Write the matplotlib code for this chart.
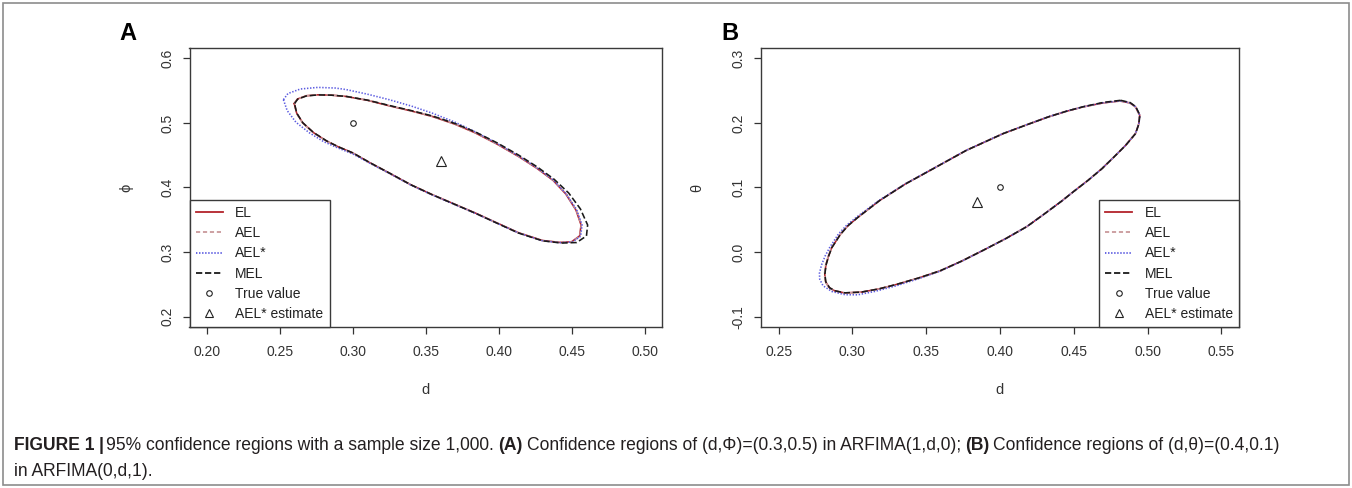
import matplotlib
matplotlib.use('Agg')
import matplotlib.pyplot as plt
from matplotlib.lines import Line2D
from matplotlib.patches import Rectangle

plt.rcParams['font.family'] = ['Liberation Sans', 'DejaVu Sans']
plt.rcParams['lines.scale_dashes'] = False

# ---- data: panel A, confidence regions of (d, phi) ----
a_el = [(0.2598, 0.5300), (0.2620, 0.5370), (0.2680, 0.5420), (0.2760, 0.5435), (0.2850, 0.5430),
        (0.2953, 0.5410), (0.3100, 0.5350), (0.3249, 0.5265), (0.3400, 0.5185), (0.3544, 0.5100),
        (0.3700, 0.4980), (0.3840, 0.4845), (0.3990, 0.4670), (0.4136, 0.4480), (0.4260, 0.4300),
        (0.4373, 0.4110), (0.4460, 0.3900), (0.4530, 0.3650), (0.4565, 0.3420), (0.4555, 0.3250),
        (0.4500, 0.3160), (0.4420, 0.3150), (0.4300, 0.3180), (0.4136, 0.3300), (0.3990, 0.3450),
        (0.3840, 0.3605), (0.3700, 0.3740), (0.3544, 0.3890), (0.3400, 0.4040), (0.3249, 0.4225),
        (0.3120, 0.4380), (0.3000, 0.4535), (0.2900, 0.4630), (0.2820, 0.4720), (0.2730, 0.4850),
        (0.2657, 0.5000), (0.2615, 0.5150), (0.2598, 0.5300)]
a_ael = [(0.2600, 0.5305), (0.2622, 0.5372), (0.2682, 0.5422), (0.2762, 0.5437), (0.2852, 0.5432),
         (0.2955, 0.5412), (0.3102, 0.5352), (0.3250, 0.5268), (0.3402, 0.5187), (0.3545, 0.5102),
         (0.3702, 0.4982), (0.3842, 0.4847), (0.3992, 0.4672), (0.4138, 0.4482), (0.4262, 0.4302),
         (0.4375, 0.4112), (0.4462, 0.3902), (0.4532, 0.3652), (0.4567, 0.3420), (0.4557, 0.3248),
         (0.4502, 0.3158), (0.4420, 0.3148), (0.4300, 0.3178), (0.4136, 0.3298), (0.3990, 0.3448),
         (0.3840, 0.3603), (0.3700, 0.3738), (0.3544, 0.3888), (0.3400, 0.4038), (0.3249, 0.4223),
         (0.3120, 0.4378), (0.3000, 0.4533), (0.2900, 0.4628), (0.2818, 0.4720), (0.2728, 0.4850),
         (0.2655, 0.5000), (0.2613, 0.5152), (0.2600, 0.5305)]
a_aels = [(0.2524, 0.5360), (0.2555, 0.5455), (0.2640, 0.5525), (0.2760, 0.5550), (0.2880, 0.5540),
          (0.2953, 0.5517), (0.3100, 0.5445), (0.3249, 0.5360), (0.3400, 0.5262), (0.3544, 0.5152),
          (0.3700, 0.5012), (0.3840, 0.4862), (0.3990, 0.4682), (0.4136, 0.4490), (0.4260, 0.4310),
          (0.4373, 0.4118), (0.4462, 0.3905), (0.4535, 0.3655), (0.4572, 0.3420), (0.4562, 0.3245),
          (0.4505, 0.3155), (0.4420, 0.3145), (0.4300, 0.3176), (0.4136, 0.3296), (0.3990, 0.3446),
          (0.3840, 0.3600), (0.3700, 0.3735), (0.3544, 0.3885), (0.3400, 0.4035), (0.3249, 0.4220),
          (0.3120, 0.4372), (0.3000, 0.4520), (0.2900, 0.4610), (0.2800, 0.4710), (0.2700, 0.4850),
          (0.2610, 0.5010), (0.2550, 0.5190), (0.2524, 0.5360)]
a_mel = [(0.2600, 0.5300), (0.2622, 0.5368), (0.2682, 0.5418), (0.2762, 0.5434), (0.2852, 0.5430),
         (0.2955, 0.5410), (0.3102, 0.5352), (0.3250, 0.5270), (0.3402, 0.5190), (0.3545, 0.5108),
         (0.3702, 0.4990), (0.3842, 0.4858), (0.3992, 0.4688), (0.4138, 0.4500), (0.4265, 0.4318),
         (0.4380, 0.4128), (0.4480, 0.3915), (0.4560, 0.3670), (0.4610, 0.3420), (0.4602, 0.3250),
         (0.4535, 0.3148), (0.4430, 0.3140), (0.4300, 0.3175), (0.4136, 0.3295), (0.3990, 0.3446),
         (0.3840, 0.3602), (0.3700, 0.3738), (0.3544, 0.3889), (0.3400, 0.4040), (0.3249, 0.4226),
         (0.3120, 0.4381), (0.3000, 0.4536), (0.2900, 0.4631), (0.2820, 0.4722), (0.2730, 0.4852),
         (0.2657, 0.5002), (0.2615, 0.5152), (0.2600, 0.5300)]
a_true = (0.30, 0.50)
a_est = (0.3606, 0.4416)

# ---- data: panel B, confidence regions of (d, theta) ----
b_el = [(0.4815, 0.2340), (0.4880, 0.2310), (0.4918, 0.2250), (0.4947, 0.2120), (0.4940, 0.1980),
        (0.4918, 0.1834), (0.4850, 0.1650), (0.4771, 0.1470), (0.4690, 0.1290), (0.4594, 0.1106),
        (0.4500, 0.0940), (0.4418, 0.0790), (0.4300, 0.0590), (0.4182, 0.0395), (0.4040, 0.0210),
        (0.3888, 0.0030), (0.3740, -0.0140), (0.3594, -0.0290), (0.3450, -0.0400), (0.3300, -0.0500),
        (0.3180, -0.0570), (0.3060, -0.0620), (0.2947, -0.0632), (0.2880, -0.0600), (0.2844, -0.0553),
        (0.2818, -0.0460), (0.2812, -0.0340), (0.2820, -0.0200), (0.2838, -0.0060), (0.2859, 0.0067),
        (0.2918, 0.0275), (0.2970, 0.0410), (0.3035, 0.0535), (0.3182, 0.0795), (0.3359, 0.1055),
        (0.3565, 0.1314), (0.3771, 0.1574), (0.4021, 0.1834), (0.4180, 0.1970), (0.4329, 0.2094),
        (0.4450, 0.2180), (0.4565, 0.2249), (0.4700, 0.2310), (0.4815, 0.2340)]
b_ael = [(0.4813, 0.2338), (0.4878, 0.2308), (0.4917, 0.2248), (0.4946, 0.2118), (0.4939, 0.1978),
         (0.4917, 0.1832), (0.4849, 0.1648), (0.4770, 0.1468), (0.4689, 0.1288), (0.4593, 0.1104),
         (0.4499, 0.0938), (0.4417, 0.0788), (0.4299, 0.0588), (0.4181, 0.0393), (0.4039, 0.0208),
         (0.3887, 0.0028), (0.3739, -0.0142), (0.3593, -0.0292), (0.3449, -0.0402), (0.3299, -0.0502),
         (0.3179, -0.0572), (0.3059, -0.0622), (0.2946, -0.0634), (0.2879, -0.0602), (0.2842, -0.0555),
         (0.2816, -0.0462), (0.2810, -0.0342), (0.2818, -0.0202), (0.2836, -0.0062), (0.2857, 0.0065),
         (0.2916, 0.0273), (0.2968, 0.0408), (0.3033, 0.0533), (0.3180, 0.0793), (0.3357, 0.1053),
         (0.3563, 0.1312), (0.3769, 0.1572), (0.4019, 0.1832), (0.4178, 0.1968), (0.4327, 0.2092),
         (0.4448, 0.2178), (0.4563, 0.2247), (0.4698, 0.2308), (0.4813, 0.2338)]
b_aels = [(0.4815, 0.2342), (0.4880, 0.2312), (0.4918, 0.2252), (0.4948, 0.2120), (0.4941, 0.1980),
          (0.4918, 0.1834), (0.4850, 0.1650), (0.4771, 0.1470), (0.4690, 0.1290), (0.4594, 0.1106),
          (0.4500, 0.0940), (0.4418, 0.0790), (0.4300, 0.0590), (0.4182, 0.0395), (0.4040, 0.0210),
          (0.3888, 0.0030), (0.3740, -0.0142), (0.3594, -0.0295), (0.3450, -0.0410), (0.3300, -0.0520),
          (0.3150, -0.0610), (0.3035, -0.0662), (0.2950, -0.0660), (0.2860, -0.0610), (0.2800, -0.0520),
          (0.2778, -0.0420), (0.2776, -0.0330), (0.2790, -0.0200), (0.2815, -0.0060), (0.2845, 0.0070),
          (0.2905, 0.0280), (0.2960, 0.0415), (0.3030, 0.0545), (0.3180, 0.0800), (0.3359, 0.1058),
          (0.3565, 0.1316), (0.3771, 0.1576), (0.4021, 0.1836), (0.4180, 0.1972), (0.4329, 0.2096),
          (0.4450, 0.2182), (0.4565, 0.2251), (0.4700, 0.2312), (0.4815, 0.2342)]
b_mel = [(0.4818, 0.2350), (0.4882, 0.2315), (0.4920, 0.2252), (0.4948, 0.2122), (0.4941, 0.1981),
         (0.4919, 0.1835), (0.4851, 0.1651), (0.4772, 0.1471), (0.4691, 0.1291), (0.4595, 0.1107),
         (0.4501, 0.0941), (0.4419, 0.0791), (0.4301, 0.0591), (0.4183, 0.0396), (0.4041, 0.0211),
         (0.3889, 0.0031), (0.3741, -0.0139), (0.3595, -0.0289), (0.3451, -0.0399), (0.3301, -0.0499),
         (0.3181, -0.0569), (0.3061, -0.0619), (0.2948, -0.0631), (0.2881, -0.0599), (0.2845, -0.0552),
         (0.2819, -0.0459), (0.2813, -0.0339), (0.2821, -0.0199), (0.2839, -0.0059), (0.2860, 0.0068),
         (0.2919, 0.0276), (0.2971, 0.0411), (0.3036, 0.0536), (0.3183, 0.0796), (0.3360, 0.1056),
         (0.3566, 0.1315), (0.3772, 0.1575), (0.4022, 0.1835), (0.4181, 0.1971), (0.4330, 0.2095),
         (0.4451, 0.2182), (0.4566, 0.2252), (0.4702, 0.2318), (0.4818, 0.2350)]
b_true = (0.40, 0.10)
b_est = (0.3844, 0.0769)

series = ['EL', 'AEL', 'AEL*', 'MEL']
a_xticks = [0.20, 0.25, 0.30, 0.35, 0.40, 0.45, 0.50]
a_yticks = [0.2, 0.3, 0.4, 0.5, 0.6]
b_xticks = [0.25, 0.30, 0.35, 0.40, 0.45, 0.50, 0.55]
b_yticks = [-0.1, 0.0, 0.1, 0.2, 0.3]

# line styles per series
styles = {
    'EL': dict(color='#b3232b', linestyle='-'),
    'AEL': dict(color='#c9989b', linestyle=(0, (3, 2))),
    'AEL*': dict(color='#5a5ae0', linestyle=(0, (1, 1.2))),
    'MEL': dict(color='#1a1a1a', linestyle=(0, (4.5, 2))),
}

W, H = 1352, 488
fig = plt.figure(figsize=(W / 100, H / 100), dpi=100)
fig.patches.append(Rectangle((3 / W, 3 / H), 1 - 6 / W, 1 - 6 / H, transform=fig.transFigure,
                             fill=False, edgecolor='#8c8c8c', linewidth=1.2))

axA = fig.add_axes([189.5 / W, 1 - 327 / H, 472.5 / W, 279 / H])
axB = fig.add_axes([761 / W, 1 - 327 / H, 478 / W, 279 / H])


def draw_panel(ax, curves, true_pt, est_pt, xlim, ylim, xticks, yticks, xlabs, ylabs, ylabel, leg_loc):
    for name, pts in zip(series, curves):
        xs, ys = zip(*pts)
        ax.plot(xs, ys, linewidth=1.15, **styles[name])
    ax.plot([true_pt[0]], [true_pt[1]], marker='o', ms=4, mfc='none', mec='#222', mew=0.8, ls='none')
    ax.plot([est_pt[0]], [est_pt[1]], marker='^', ms=6.5, mfc='none', mec='#222', mew=0.8, ls='none')
    ax.set_xlim(xlim)
    ax.set_ylim(ylim)
    ax.set_xticks(xticks)
    ax.set_xticklabels(xlabs)
    ax.set_yticks(yticks)
    ax.set_yticklabels(ylabs, rotation=90, va='center')
    ax.tick_params(direction='out', length=5, width=0.9, colors='#333', labelsize=10, pad=6)
    ax.tick_params(axis='x', pad=8)
    for sp in ax.spines.values():
        sp.set_color('#3a3a3a')
        sp.set_linewidth(1.0)
    ax.set_xlabel('d', fontsize=10.5, color='#333')
    ax.xaxis.set_label_coords(0.5, -63 / 279)
    ax.xaxis.label.set_va('center')
    ax.set_ylabel(ylabel, fontsize=10.5, color='#333')
    ax.yaxis.set_label_coords(-63 / 475, 0.5)
    ax.yaxis.label.set_va('center')

    handles = [Line2D([], [], linewidth=1.3, **styles[n]) for n in series]
    handles.append(Line2D([], [], marker='o', ms=4, mfc='none', mec='#222', mew=0.8, ls='none'))
    handles.append(Line2D([], [], marker='^', ms=6, mfc='none', mec='#222', mew=0.8, ls='none'))
    labels = series + ['True value', 'AEL* estimate']
    anchor = (0, 0) if leg_loc == 'lower left' else (1, 0)
    leg = ax.legend(handles, labels, loc=leg_loc, bbox_to_anchor=anchor, borderaxespad=0,
                    fontsize=10, handlelength=1.95, handletextpad=0.9, labelspacing=0.44,
                    borderpad=0.45, fancybox=False, framealpha=1, edgecolor='#3a3a3a', numpoints=1)
    leg.get_frame().set_linewidth(1.0)
    for t in leg.get_texts():
        t.set_color('#222')


draw_panel(axA, [a_el, a_ael, a_aels, a_mel], a_true, a_est, (0.188, 0.512), (0.184, 0.616),
           a_xticks, a_yticks, ['%.2f' % v for v in a_xticks], ['%.1f' % v for v in a_yticks],
           'ϕ', 'lower left')
draw_panel(axB, [b_el, b_ael, b_aels, b_mel], b_true, b_est, (0.238, 0.562), (-0.116, 0.316),
           b_xticks, b_yticks, ['%.2f' % v for v in b_xticks], ['%.1f' % v for v in b_yticks],
           'θ', 'lower right')

fig.text(128 / W, 1 - 33 / H, 'A', fontsize=17, fontweight='bold', ha='center', va='center')
fig.text(730 / W, 1 - 33 / H, 'B', fontsize=17, fontweight='bold', ha='center', va='center')

# caption, placed piece by piece so bold and regular runs sit side by side
line1 = [('FIGURE 1', 'bold', 4), ('|', 'bold', 3), ('95% confidence regions with a sample size 1,000.', 'normal', 4),
         ('(A)', 'bold', 4), ('Confidence regions of (d,Φ)=(0.3,0.5) in ARFIMA(1,d,0);', 'normal', 4),
         ('(B)', 'bold', 4), ('Confidence regions of (d,θ)=(0.4,0.1)', 'normal', 0)]
line2 = [('in ARFIMA(0,d,1).', 'normal', 0)]
renderer = fig.canvas.get_renderer()


def put_line(pieces, x0, y, size):
    x = x0
    texts = []
    for s, w, gap in pieces:
        t = fig.text(x / W, y, s, fontsize=size, fontweight=w, ha='left', va='center_baseline', color='#231f20')
        bb = t.get_window_extent(renderer=renderer)
        x = bb.x1 + gap
        texts.append(t)
    return texts, x


texts, xend = put_line(line1, 14, 1 - 443 / H, 10)
scale = (1290 - 14) / (xend - 14)
for t in texts:
    t.remove()
size = 10 * scale
put_line(line1, 14, 1 - 443 / H, size)
put_line(line2, 14, 1 - 469 / H, size)

fig.savefig('out.png', dpi=100)
